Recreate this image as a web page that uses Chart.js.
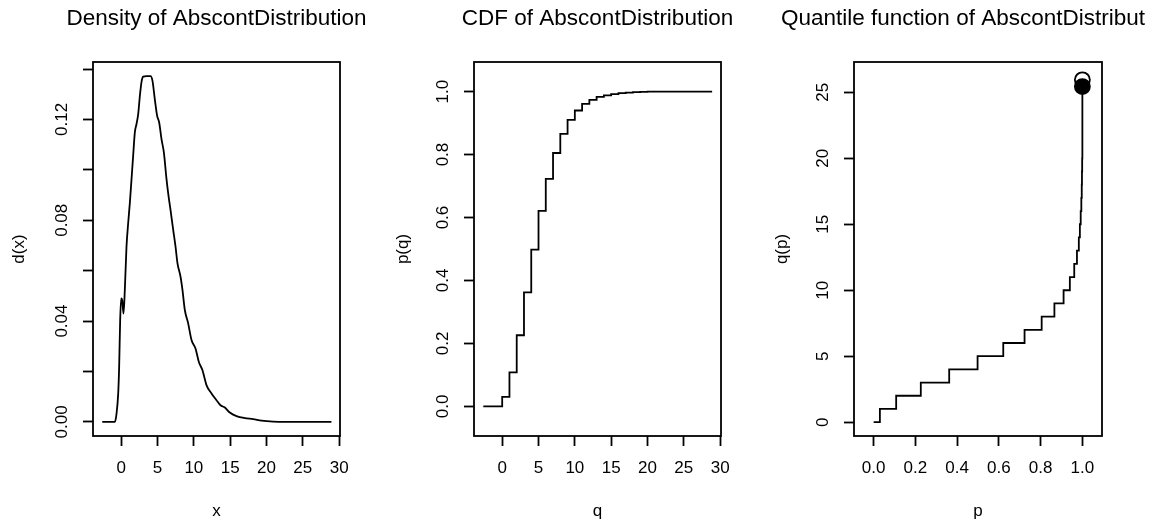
<!DOCTYPE html>
<html>
<head>
<meta charset="utf-8">
<script src="https://cdn.jsdelivr.net/npm/chart.js@4"></script>
<style>
  html, body { margin: 0; padding: 0; background: #fff; overflow: hidden; }
  #wrap { position: relative; width: 1160px; height: 527px; }
  canvas { position: absolute; top: 0; }
</style>
</head>
<body>
<div id="wrap">
  <canvas id="densityChart" width="390" height="527" style="left:0px"></canvas>
  <canvas id="cdfChart" width="390" height="527" style="left:390px"></canvas>
  <canvas id="quantileChart" width="376" height="527" style="left:770px"></canvas>
</div>
<script>
// Density curve
const densityX = [-2.61, -0.87, -0.64, -0.41, -0.28, -0.14, 0.0, 0.14, 0.32, 0.50, 0.73, 0.96, 1.19, 1.42,
    1.65, 1.88, 2.11, 2.34, 2.57, 2.80, 3.03, 3.49, 4.04, 4.31, 4.63, 4.95, 5.23, 5.55, 5.87, 6.24,
    6.47, 6.79, 7.16, 7.48, 7.75, 8.17, 8.44, 8.76, 9.22, 9.68, 10.23, 10.69, 11.19, 11.74, 12.43,
    13.12, 13.67, 14.27, 14.95, 15.87, 17.02, 18.17, 19.31, 20.92, 22.75, 28.94];
const densityY = [0, 0, 0.0033, 0.0113, 0.0219, 0.0404, 0.049, 0.0483, 0.043, 0.0523, 0.0695, 0.0788, 0.0868, 0.0962,
    0.1057, 0.1149, 0.1182, 0.1221, 0.1293, 0.1349, 0.1370, 0.1372, 0.1372, 0.1353, 0.1280, 0.1214, 0.1188, 0.1122, 0.1070, 0.0963,
    0.0907, 0.0841, 0.0762, 0.0695, 0.0629, 0.0576, 0.0523, 0.0444, 0.0391, 0.0325, 0.0291, 0.0238, 0.0205, 0.0146, 0.0113,
    0.0086, 0.0066, 0.0057, 0.0037, 0.0023, 0.0015, 0.0011, 0.0005, 0.0001, 0, 0];

// CDF steps
const cdfQ = [-2.6, 0, 1, 2, 3, 4, 5, 6, 7, 8, 9, 10, 11, 12, 13, 14, 15, 16, 17, 18, 19, 20, 28.9];
const cdfP = [0, 0.030, 0.108, 0.226, 0.362, 0.498, 0.621, 0.723, 0.805, 0.866, 0.910, 0.940, 0.961,
    0.974, 0.983, 0.988, 0.992, 0.995, 0.997, 0.998, 0.999, 1.0, 1.0];

// Quantile function steps
const quantP = [0, 0.030, 0.108, 0.226, 0.362, 0.498, 0.621, 0.723, 0.805, 0.866, 0.910, 0.940, 0.961,
    0.974, 0.983, 0.988, 0.992, 0.995, 0.997, 0.998, 0.999, 1.0];
const quantQ = [0, 1, 2, 3, 4, 5, 6, 7, 8, 9, 10, 11, 12, 13, 14, 15, 16, 17, 18, 19, 20, 25.44];
const quantEndP = [1.0];
const quantOpenQ = [25.95];
const quantClosedQ = [25.44];

// Axis ticks
const densityXTicks = [0, 5, 10, 15, 20, 25, 30];
const densityYTicks = [0, 0.02, 0.04, 0.06, 0.08, 0.10, 0.12, 0.14];
const densityYLabels = ['0.00', '', '0.04', '', '0.08', '', '0.12', ''];
const cdfXTicks = [0, 5, 10, 15, 20, 25, 30];
const cdfYTicks = [0, 0.2, 0.4, 0.6, 0.8, 1.0];
const cdfYLabels = ['0.0', '0.2', '0.4', '0.6', '0.8', '1.0'];
const quantXTicks = [0, 0.2, 0.4, 0.6, 0.8, 1.0];
const quantXLabels = ['0.0', '0.2', '0.4', '0.6', '0.8', '1.0'];
const quantYTicks = [0, 5, 10, 15, 20, 25];

const FONT = '"Liberation Sans", Arial, Helvetica, sans-serif';
const LW = 1.8;

function pts(xs, ys) {
    return xs.map((x, i) => ({ x: x, y: ys[i] }));
}

// draws the box around the plot region and the main title
const framePlugin = {
    id: 'frame',
    afterDraw(chart, args, opts) {
        const { ctx, chartArea: a } = chart;
        ctx.save();
        ctx.strokeStyle = '#000';
        ctx.lineWidth = LW;
        ctx.strokeRect(a.left, a.top, a.right - a.left, a.bottom - a.top);
        ctx.fillStyle = '#000';
        ctx.font = '22.5px ' + FONT;
        ctx.textAlign = 'center';
        ctx.textBaseline = 'middle';
        ctx.fillText(opts.text, (a.left + a.right) / 2, 19);
        ctx.restore();
    }
};

function axis(min, max, ticks, labels, title) {
    return {
        type: 'linear',
        min: min,
        max: max,
        bounds: 'data',
        afterBuildTicks: s => { s.ticks = ticks.map(v => ({ value: v })); },
        ticks: {
            color: '#000',
            font: { family: FONT, size: 17 },
            autoSkip: false,
            callback: (v, i) => labels[i]
        },
        grid: {
            drawOnChartArea: false,
            drawTicks: true,
            tickLength: 10,
            tickWidth: LW,
            color: '#000'
        },
        border: { display: false },
        title: {
            display: true,
            text: title,
            color: '#000',
            font: { family: FONT, size: 17 }
        }
    };
}

function makePanel(id, opt) {
    const ctx = document.getElementById(id).getContext('2d');

    const x = axis(opt.xMin, opt.xMax, opt.xTicks, opt.xLabels, opt.xTitle);
    x.ticks.padding = 12;
    x.title.padding = { top: 0, bottom: 5 };
    x.afterFit = sc => { sc.height = 527 - 436; };

    const y = axis(opt.yMin, opt.yMax, opt.yTicks, opt.yLabels, opt.yTitle);
    y.ticks.padding = opt.yTickPad;
    y.ticks.minRotation = 90;
    y.ticks.maxRotation = 90;
    y.ticks.crossAlign = 'center';
    y.title.padding = { top: opt.yTitlePad, bottom: 0 };
    y.afterFit = sc => { sc.width = opt.yWidth; };

    return new Chart(ctx, {
        type: 'scatter',
        data: { datasets: opt.datasets },
        options: {
            responsive: false,
            animation: false,
            devicePixelRatio: 1,
            layout: { padding: { top: 62, right: opt.padRight, bottom: 0, left: 0 } },
            plugins: {
                legend: { display: false },
                tooltip: { enabled: false },
                frame: { text: opt.title }
            },
            scales: { x: x, y: y }
        },
        plugins: [framePlugin]
    });
}

function lineSet(data, extra) {
    return Object.assign({
        data: data,
        showLine: true,
        borderColor: '#000',
        borderWidth: LW,
        pointRadius: 0,
        fill: false
    }, extra);
}

makePanel('densityChart', {
    title: 'Density of AbscontDistribution',
    datasets: [lineSet(pts(densityX, densityY), { cubicInterpolationMode: 'monotone' })],
    xMin: -3.88, xMax: 30.12, xTicks: densityXTicks, xLabels: densityXTicks.map(String), xTitle: 'x',
    yMin: -0.0056, yMax: 0.1428, yTicks: densityYTicks, yLabels: densityYLabels, yTitle: 'd(x)',
    yWidth: 93, padRight: 50, yTickPad: 4.5, yTitlePad: 9
});

makePanel('cdfChart', {
    title: 'CDF of AbscontDistribution',
    datasets: [lineSet(pts(cdfQ, cdfP), { stepped: 'before' })],
    xMin: -3.88, xMax: 30.12, xTicks: cdfXTicks, xLabels: cdfXTicks.map(String), xTitle: 'q',
    yMin: -0.094, yMax: 1.094, yTicks: cdfYTicks, yLabels: cdfYLabels, yTitle: 'p(q)',
    yWidth: 84, padRight: 59, yTickPad: 9.2, yTitlePad: 3
});

makePanel('quantileChart', {
    title: 'Quantile function of AbscontDistribution',
    datasets: [
        lineSet(pts(quantP, quantQ), { stepped: 'before', order: 3 }),
        {
            data: pts(quantEndP, quantOpenQ), showLine: false, order: 2,
            pointRadius: 7.5, pointStyle: 'circle',
            pointBackgroundColor: 'rgba(0,0,0,0)', pointBorderColor: '#000', pointBorderWidth: LW
        },
        {
            data: pts(quantEndP, quantClosedQ), showLine: false, order: 1,
            pointRadius: 7.5, pointStyle: 'circle',
            pointBackgroundColor: '#000', pointBorderColor: '#000', pointBorderWidth: LW
        }
    ],
    xMin: -0.094, xMax: 1.094, xTicks: quantXTicks, xLabels: quantXLabels, xTitle: 'p',
    yMin: -1.05, yMax: 27.3, yTicks: quantYTicks, yLabels: quantYTicks.map(String), yTitle: 'q(p)',
    yWidth: 84, padRight: 44, yTickPad: 11.5, yTitlePad: 2
});
</script>
</body>
</html>
